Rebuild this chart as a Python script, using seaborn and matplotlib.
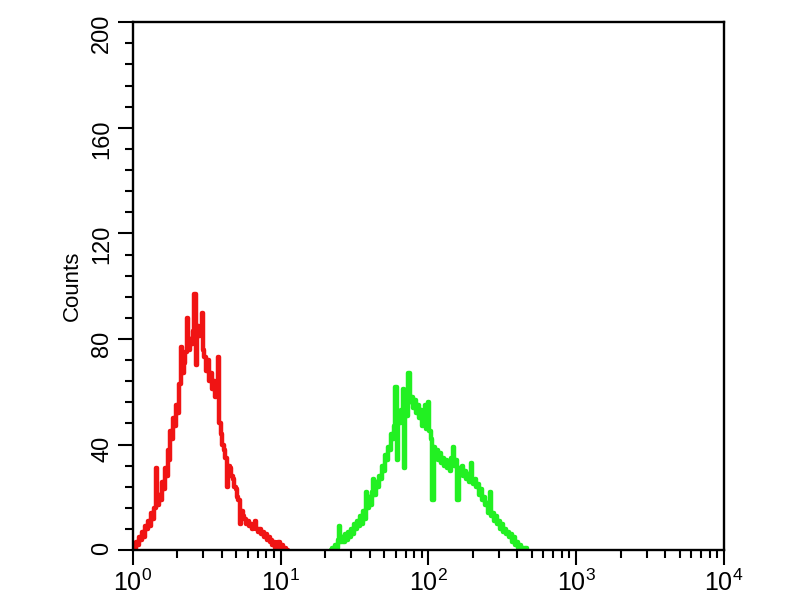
import seaborn as sns
import matplotlib.pyplot as plt
import pandas as pd
import numpy as np
from matplotlib.ticker import MultipleLocator, LogLocator, NullFormatter

# channel width in decades (log10 scale)
step = 0.01

# isotype control (red), channels start at log10 = 0.00
red_start = 0.00
red_counts = [0, 2, 0, 3, 2, 5, 4, 7, 5, 9,
              8, 11, 9, 14, 12, 16, 31, 17, 21, 19,
              26, 23, 31, 28, 38, 34, 45, 42, 50, 47,
              55, 52, 63, 77, 67, 71, 75, 88, 76, 80,
              78, 83, 97, 70, 85, 81, 84, 90, 76, 73,
              68, 72, 64, 67, 61, 64, 58, 62, 73, 48,
              44, 40, 38, 35, 24, 32, 31, 28, 27, 24,
              23, 20, 19, 10, 15, 13, 12, 10, 11, 9,
              10, 8, 9, 11, 8, 7, 8, 6, 7, 5,
              6, 4, 5, 3, 4, 2, 3, 1, 2, 3,
              1, 2, 0, 1, 0, 0]

# antibody stained (green), channels start at log10 = 1.34
green_start = 1.34
green_counts = [0, 1, 0, 2, 1, 4, 9, 3, 5, 3,
                6, 4, 7, 5, 8, 6, 10, 8, 11, 9,
                13, 10, 15, 12, 22, 16, 20, 17, 22, 27,
                21, 26, 24, 28, 27, 32, 30, 36, 34, 39,
                38, 44, 42, 47, 62, 34, 52, 48, 53, 61,
                31, 55, 51, 67, 56, 58, 54, 57, 52, 55,
                50, 53, 47, 50, 55, 46, 56, 45, 42, 19,
                39, 36, 38, 34, 37, 33, 35, 32, 34, 31,
                33, 30, 35, 39, 32, 34, 19, 31, 29, 32,
                28, 30, 27, 29, 26, 33, 27, 25, 27, 24,
                25, 21, 23, 19, 20, 17, 18, 14, 22, 13,
                14, 11, 13, 10, 11, 8, 10, 7, 8, 6,
                7, 5, 6, 3, 5, 2, 3, 1, 2, 0,
                1, 0, 1, 0]

y_ticks = [0, 40, 80, 120, 160, 200]
x_ticks = [1, 10, 100, 1000, 10000]
x_tick_labels = [r'$\mathregular{10^0}$', r'$\mathregular{10^1}$', r'$\mathregular{10^2}$',
                 r'$\mathregular{10^3}$', r'$\mathregular{10^4}$']


def to_frame(start, counts, name):
    x = 10 ** (start + step * np.arange(len(counts)))
    return pd.DataFrame({'FL': x, 'Counts': counts, 'sample': name})


df = pd.concat([to_frame(red_start, red_counts, 'isotype'),
                to_frame(green_start, green_counts, 'antibody')], ignore_index=True)

sns.set_style('white')
plt.rcParams['font.family'] = ['Liberation Sans', 'DejaVu Sans']

fig = plt.figure(figsize=(8, 6), dpi=100)
ax = fig.add_axes([0.166, 0.083, 0.739, 0.88])

sns.lineplot(data=df, x='FL', y='Counts', hue='sample',
             palette={'isotype': '#f01414', 'antibody': '#22f022'},
             estimator=None, drawstyle='steps-mid', linewidth=3.2,
             legend=False, ax=ax)

ax.set_xscale('log')
ax.set_xlim(1, 1e4)
ax.set_ylim(0, 200)
ax.set_xticks(x_ticks, x_tick_labels)
ax.xaxis.set_minor_locator(LogLocator(base=10, subs=np.arange(2, 10)))
ax.xaxis.set_minor_formatter(NullFormatter())
ax.set_yticks(y_ticks)
ax.yaxis.set_minor_locator(MultipleLocator(8))

for s in ax.spines.values():
    s.set_color('black')
    s.set_linewidth(1.7)

ax.tick_params(which='both', direction='out', top=False, right=False,
               bottom=True, left=True, color='black', width=1.5,
               labelcolor='black')
ax.tick_params(which='major', length=11, labelsize=18, pad=3)
ax.tick_params(which='minor', length=6)
ax.tick_params(axis='y', labelrotation=90, labelsize=17)

ax.set_xlabel('')
ax.set_ylabel('Counts', fontsize=16, labelpad=6, color='black')

fig.savefig('out.png', dpi=100)
